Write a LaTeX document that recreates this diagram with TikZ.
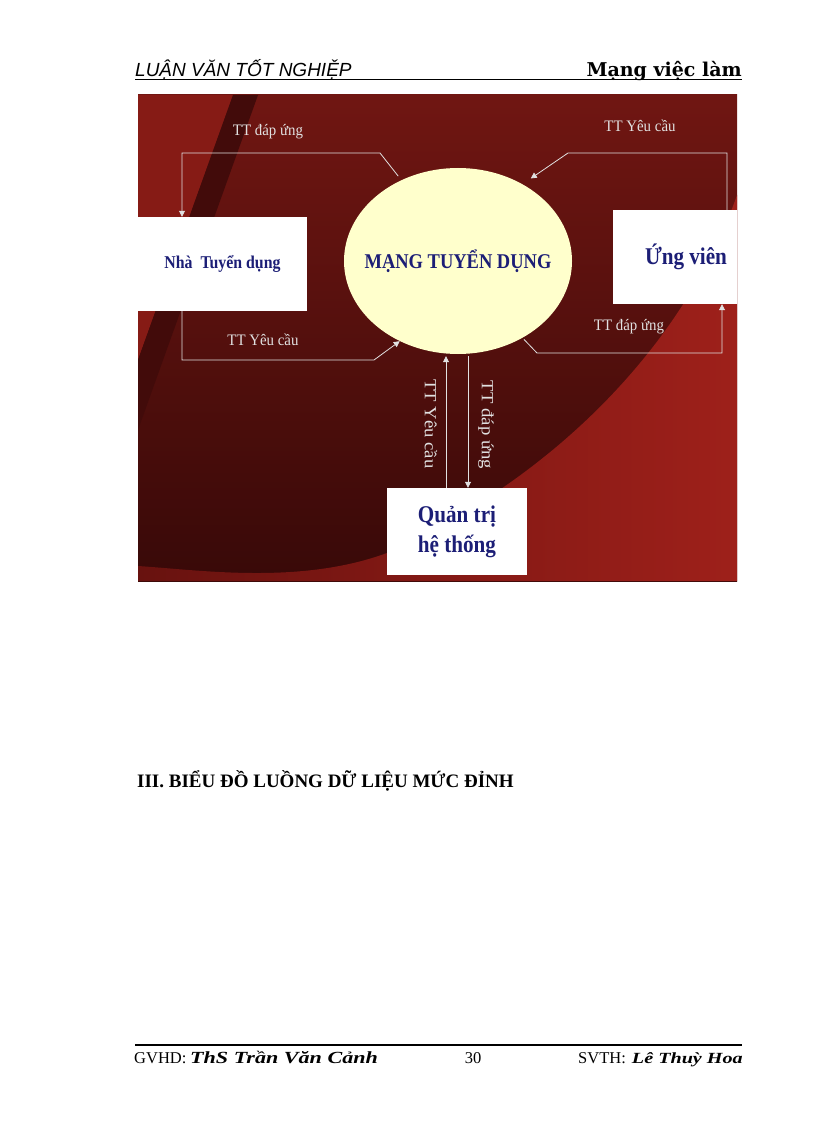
\documentclass[tikz,border=0pt]{standalone}
\usepackage{fontspec}
\setmainfont{Liberation Serif}
\newfontfamily\headfont{Liberation Sans}
\newfontfamily\markfont{DejaVu Serif}
\newfontfamily\boxfont{Liberation Serif}[FakeStretch=0.88]
\newfontfamily\lblfont{Liberation Serif}[FakeStretch=0.93]
\newfontfamily\vlblfont{Liberation Serif}[FakeStretch=1.1]
\newfontfamily\sigfont{Liberation Serif}[FakeStretch=1.3]
\usetikzlibrary{shapes.geometric,arrows.meta,calc}
\definecolor{chuxanh}{RGB}{28,30,118}
\definecolor{nenvang}{RGB}{255,255,204}
\definecolor{nendo}{RGB}{112,22,18}
\definecolor{nentoi}{RGB}{56,9,8}
\definecolor{nendosang}{RGB}{134,27,21}
\definecolor{dailoi}{RGB}{66,11,10}
\definecolor{vungdo}{RGB}{158,32,26}
\definecolor{vungdotrai}{RGB}{104,18,15}
\definecolor{netsang}{RGB}{225,225,225}
\tikzstyle{thucthe} = [rectangle, fill=white, inner sep=0pt, text=chuxanh, align=center]
\tikzstyle{trungtam} = [ellipse, fill=nenvang, minimum width=228pt, minimum height=186pt, inner sep=0pt, text=chuxanh]
\tikzstyle{luong} = [draw=netsang, line width=0.8pt, -{Triangle[width=6pt,length=6pt]}]
\tikzstyle{nhan} = [text=netsang, inner sep=0pt]

\begin{document}
\begin{tikzpicture}[x=1pt,y=-1pt]
	\useasboundingbox (0,0) rectangle (816,1123);
	% dau trang
	\node[inner sep=0pt, anchor=base west] (tieude) at (135,77) {\headfont\itshape\fontsize{19}{22}\selectfont LUẬN VĂN TỐT NGHIỆP};
	\node[inner sep=0pt, anchor=base east] (detai) at (742,77) {\markfont\bfseries\fontsize{19}{22}\selectfont Mạng việc làm};
	\draw[line width=1.3pt] (135,79.5) -- (742,79.5);
	% hinh so do
	\begin{scope}
		\clip (138,95) rectangle (737,581);
		\shade[top color=nendo, bottom color=nentoi] (138,95) rectangle (737,581);
		\fill[nendosang] (138,95) -- (233,95) -- (138,360) -- cycle;
		\fill[dailoi] (233,95) -- (258,95) -- (138,430) -- (138,360) -- cycle;
		\shade[left color=vungdotrai, right color=vungdo] (737,195) .. controls (690,330) and (570,470) .. (387,553) .. controls (300,585) and (200,570) .. (138,566) -- (138,581) -- (737,581) -- cycle;
		\node (mang) at (458,261) [trungtam, font={\boxfont\bfseries\fontsize{21}{25}\selectfont}] {\makebox[0pt]{MẠNG TUYỂN DỤNG}};
		\node (nha) at (222.5,264) [thucthe, minimum width=169pt, minimum height=94pt, font={\boxfont\bfseries\fontsize{18}{21}\selectfont}] {Nhà\ \ Tuyển dụng};
		\node (ungvien) at (686,257) [thucthe, minimum width=146pt, minimum height=94pt, font={\boxfont\bfseries\fontsize{24}{28}\selectfont}] {Ứng viên};
		\node (quantri) at (457,531.5) [thucthe, minimum width=140pt, minimum height=87pt, font={\boxfont\bfseries\fontsize{24}{30}\selectfont}] {Quản trị\\hệ thống};
		\coordinate (qtlen) at ([xshift=-11pt]quantri.north);
		\coordinate (qtxuong) at ([xshift=11pt]quantri.north);
		% cac luong du lieu
		\draw[luong, shorten <=5pt] (mang.125) -- (380,153) -| ([xshift=-40.5pt]nha.north);
		\draw[luong, shorten >=10pt] ([xshift=41pt]ungvien.north) |- (568,153) -- (mang.50);
		\draw[luong] ([xshift=-40.5pt]nha.south) |- (374,360) -- (mang.234);
		\draw[luong, shorten <=2pt] (mang.-50) -- (537,353) -| ([xshift=36pt]ungvien.south);
		\draw[luong, shorten >=2pt] (qtlen) -- (qtlen |- mang.south);
		\draw[luong, shorten <=2pt] (qtxuong |- mang.south) -- (qtxuong);
		\node[nhan, font={\lblfont\fontsize{16}{19}\selectfont}] (n1) at (268,132) {TT đáp ứng};
		\node[nhan, font={\lblfont\fontsize{16}{19}\selectfont}] (n2) at (640,126) {TT Yêu cầu};
		\node[nhan, font={\lblfont\fontsize{16}{19}\selectfont}] (n3) at (263,340) {TT Yêu cầu};
		\node[nhan, font={\lblfont\fontsize{16}{19}\selectfont}] (n4) at (629,327) {TT đáp ứng};
		\node[nhan, rotate=-90, font={\vlblfont\fontsize{17}{20}\selectfont}] (n5) at (431,424) {TT Yêu cầu};
		\node[nhan, rotate=-90, font={\vlblfont\fontsize{17}{20}\selectfont}] (n6) at (486,425) {TT đáp ứng};
	\end{scope}
	% muc tieu de
	\node[inner sep=0pt, anchor=base west] (muc) at (137,787) {\bfseries\fontsize{19}{22}\selectfont III. BIỂU ĐỒ LUỒNG DỮ LIỆU MỨC ĐỈNH};
	% chan trang
	\draw[line width=1.5pt] (135,1045) -- (742,1045);
	\node[inner sep=0pt, anchor=base west] (gvhd) at (134,1063) {\fontsize{16.5}{20}\selectfont GVHD:};
	\node[inner sep=0pt, anchor=base west] (tengv) at (190,1063) {\sigfont\bfseries\itshape\fontsize{17}{20}\selectfont ThS Trần Văn Cảnh};
	\node[inner sep=0pt, anchor=base] (trang) at (473,1063) {\fontsize{16.5}{20}\selectfont 30};
	\node[inner sep=0pt, anchor=base west] (svth) at (578,1063) {\fontsize{16.5}{20}\selectfont SVTH:};
	\node[inner sep=0pt, anchor=base east] (tensv) at (743,1063) {\sigfont\bfseries\itshape\fontsize{15.5}{19}\selectfont Lê Thuỳ Hoa};
\end{tikzpicture}
\end{document}
